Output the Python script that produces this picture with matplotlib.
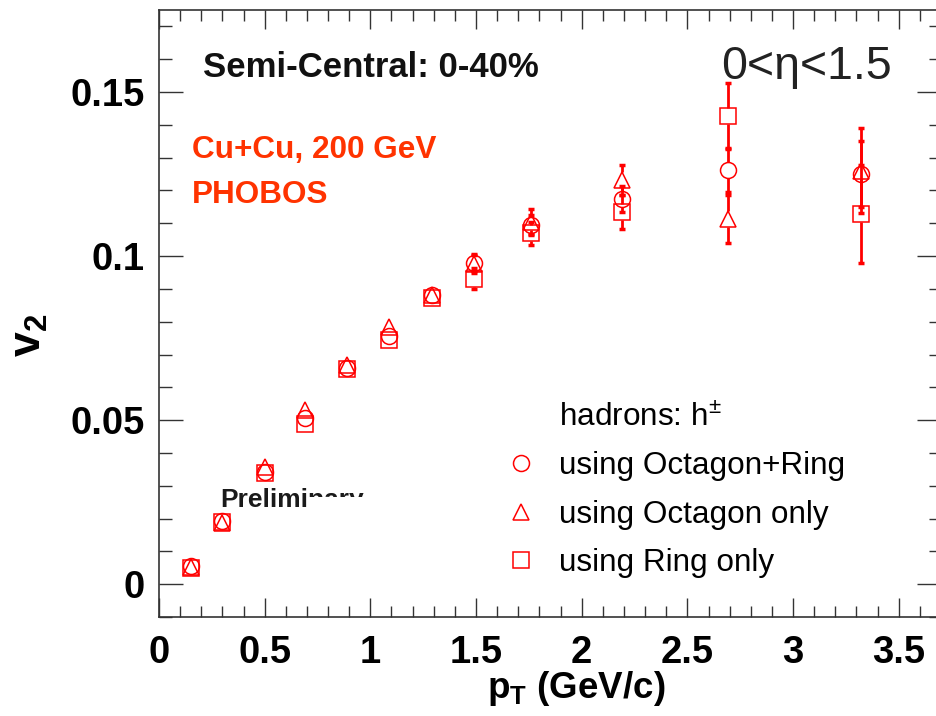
import matplotlib
matplotlib.use("Agg")
import matplotlib.pyplot as plt
from matplotlib.lines import Line2D
from matplotlib.patches import Rectangle
from matplotlib.ticker import MultipleLocator

plt.rcParams["font.family"] = ["Liberation Sans", "DejaVu Sans"]
plt.rcParams["mathtext.fontset"] = "custom"
plt.rcParams["mathtext.rm"] = "Liberation Sans"
plt.rcParams["mathtext.it"] = "Liberation Sans:italic"
plt.rcParams["mathtext.bf"] = "Liberation Sans:bold"

# transverse momentum bin centres (GeV/c)
pt = [0.15, 0.30, 0.50, 0.69, 0.89, 1.09, 1.29, 1.49, 1.76, 2.19, 2.69, 3.32]

# v2 from the combined Octagon+Ring reaction-plane
v2_octring = [0.0055, 0.0192, 0.0342, 0.0508, 0.0660, 0.0756, 0.0880, 0.0980, 0.1095, 0.1174, 0.1262, 0.1250]
err_octring = [0.0006, 0.0008, 0.0010, 0.0012, 0.0014, 0.0016, 0.0020, 0.0025, 0.0030, 0.0040, 0.0067, 0.0100]

# v2 using the Octagon only
v2_oct = [0.0052, 0.0186, 0.0356, 0.0530, 0.0668, 0.0785, 0.0880, 0.0976, 0.1105, 0.1232, 0.1113, 0.1260]
err_oct = [0.0007, 0.0009, 0.0011, 0.0013, 0.0015, 0.0018, 0.0022, 0.0028, 0.0037, 0.0046, 0.0073, 0.0130]

# v2 using the Rings only
v2_ring = [0.0050, 0.0190, 0.0338, 0.0488, 0.0655, 0.0744, 0.0872, 0.0931, 0.1069, 0.1134, 0.1427, 0.1128]
err_ring = [0.0008, 0.0010, 0.0012, 0.0014, 0.0016, 0.0019, 0.0024, 0.0032, 0.0035, 0.0052, 0.0101, 0.0150]

labels = ["using Octagon+Ring", "using Octagon only", "using Ring only"]
markers = ["o", "^", "s"]

W, H = 937, 716
RED = "#ff0000"
MS = 11.5


def fx(px):
    return px / W


def fy(py):
    return 1 - py / H


fig = plt.figure(figsize=(W / 100, H / 100), dpi=100)
ax = fig.add_axes([fx(159), fy(617), (941 - 159) / W, (617 - 10) / H])
ax.set_xlim(0, 3.7)
ax.set_ylim(-0.01, 0.175)

ax.xaxis.set_major_locator(MultipleLocator(0.5))
ax.xaxis.set_minor_locator(MultipleLocator(0.1))
ax.yaxis.set_major_locator(MultipleLocator(0.05))
ax.yaxis.set_minor_locator(MultipleLocator(0.01))
ax.xaxis.set_major_formatter(plt.FuncFormatter(lambda v, p: f"{v:g}"))
ax.yaxis.set_major_formatter(plt.FuncFormatter(lambda v, p: f"{v:g}"))
ax.tick_params(which="both", direction="in", top=True, right=True, width=1.0, color="#333333")
ax.tick_params(axis="x", which="major", length=14, pad=13)
ax.tick_params(axis="x", which="minor", length=8)
ax.tick_params(axis="y", which="major", length=17, pad=10)
ax.tick_params(axis="y", which="minor", length=9)
for lab in ax.get_xticklabels() + ax.get_yticklabels():
    lab.set_fontweight("bold")
    lab.set_fontsize(27.5)
for sp in ax.spines.values():
    sp.set_color("#333333")
    sp.set_linewidth(1.2)

# error bars are drawn with a gap where the hollow marker sits
gap = (MS / 2) * (100 / 72) * (0.175 + 0.01) / ax.bbox.height


def draw_series(x, y, err, marker):
    for xi, yi, ei in zip(x, y, err):
        if ei > gap:
            ax.vlines(xi, yi + gap, yi + ei, color=RED, lw=2.0, zorder=2)
            ax.vlines(xi, yi - ei, yi - gap, color=RED, lw=2.0, zorder=2)
            ax.plot([xi, xi], [yi - ei, yi + ei], ls="none", marker="_", ms=5, mew=2.5, color=RED, zorder=2)
    ax.plot(x, y, ls="none", marker=marker, ms=MS, mfc="none", mec=RED, mew=1.1, zorder=3)


draw_series(pt, v2_octring, err_octring, "o")
draw_series(pt, v2_oct, err_oct, "^")
draw_series(pt, v2_ring, err_ring, "s")

# legend: header line followed by the three methods
handles = [Line2D([], [], ls="none")]
handles += [Line2D([], [], ls="none", marker=m, ms=MS, mfc="none", mec=RED, mew=1.1) for m in markers]
leg = ax.legend(handles, ["hadrons: h$^{\\pm}$"] + labels, loc="upper left",
                bbox_to_anchor=(fx(505), fy(403)), bbox_transform=fig.transFigure,
                frameon=False, fontsize=22.7, handlelength=1.0, handletextpad=0.72,
                labelspacing=0.58, borderpad=0, borderaxespad=0)

fig.text(fx(203), fy(77), "Semi-Central: 0-40%", fontsize=25, fontweight="bold", color="#111111")
fig.text(fx(721), fy(79), "0<η<1.5", fontsize=33.5, color="#222222")
fig.text(fx(192), fy(158), "Cu+Cu, 200 GeV", fontsize=22.7, fontweight="bold", color="#ff3300")
fig.text(fx(192), fy(203), "PHOBOS", fontsize=22.7, fontweight="bold", color="#ff3300")

# partly masked preliminary tag
fig.text(fx(220), fy(507), "Preliminary", fontsize=19, fontweight="bold", color="#1a1a1a", zorder=5)
fig.patches.append(Rectangle((fx(308), fy(513)), fx(70), 16 / H, transform=fig.transFigure,
                             facecolor="white", edgecolor="none", zorder=6))

fig.text(fx(576), fy(688), r"$\mathbf{p_{T}}$ (GeV/c)", fontsize=26.5, fontweight="bold",
         ha="center", va="center")
fig.text(fx(30), fy(335), r"$\mathbf{v_{2}}$", fontsize=32, fontweight="bold",
         ha="center", va="center", rotation=90)

fig.savefig("out.png", dpi=100)
